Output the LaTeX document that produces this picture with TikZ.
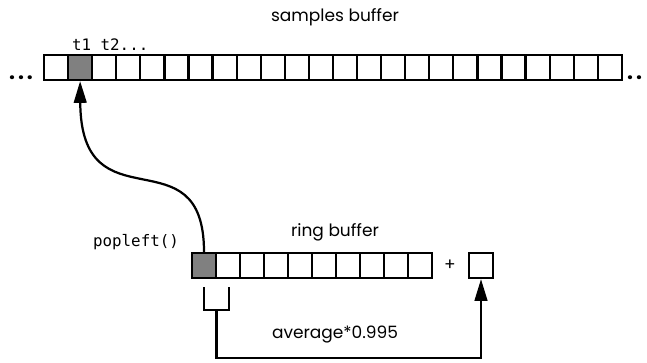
\documentclass[tikz,border=0pt]{standalone}
\usepackage{fontspec}
\setmainfont{Poppins}
\setmonofont{DejaVu Sans Mono}
\usepackage{tikz}
\usetikzlibrary{arrows.meta}

\begin{document}
\begin{tikzpicture}[x=0.03cm, y=-0.03cm,
    cell/.style={draw, line width=1.9pt, fill=white, minimum width=0.723cm, minimum height=0.75cm, inner sep=0pt},
    fullcell/.style={cell, fill=gray},
    label/.style={font=\fontsize{14.5}{16}\selectfont},
    dots/.style={font=\fontsize{18}{18}\selectfont\bfseries, inner sep=0pt},
    code/.style={font=\ttfamily\fontsize{13.5}{15}\selectfont},
    tip/.style={-{Triangle[length=0.65cm, width=0.38cm]}, line width=1.9pt}]
    \useasboundingbox (0,0) rectangle (647,362);

    % samples buffer
    \node[label] (stitle) at (335,17) {samples buffer};
    \foreach \i in {0,...,23} {
        \node[cell] (s\i) at (44+24.08*\i+12.04, 67.5) {};
    }
    \node[fullcell] at (s1) {};
    \node[dots, anchor=base west] (sleft) at (9,79) {.\hspace{2.5pt}.\hspace{2.5pt}.};
    \node[dots, anchor=base west] (sright) at (627,79) {.\hspace{2.5pt}.};
    \node[code, anchor=west] (times) at (68,45) {t1 t2...};

    % ring buffer
    \node[label] (rtitle) at (335,232) {ring buffer};
    \foreach \i in {0,...,9} {
        \node[cell] (r\i) at (192+24*\i+12, 265.5) {};
    }
    \node[fullcell] at (r0) {};
    \node[code, anchor=east] (pop) at (183,242) {popleft()};
    \node[label] (plus) at (450,265) {+};
    \node[cell] (avg) at (481,265.5) {};

    % popleft moves the oldest sample
    \draw[tip] (r0.north) .. controls (204,130) and (81,230) .. (s1.south);

    % bracket under the first two cells and the running average
    \coordinate (b1) at (204,287);
    \coordinate (b2) at (229,287);
    \coordinate (bmid) at (216.5,310);
    \draw[line width=1.9pt] (b1) -- (204,310) -- (229,310) -- (b2);
    \draw[tip] (bmid) -- (216.5,358) -| (avg.south);
    \node[label] (factor) at (335,335) {average*0.995};
\end{tikzpicture}
\end{document}
